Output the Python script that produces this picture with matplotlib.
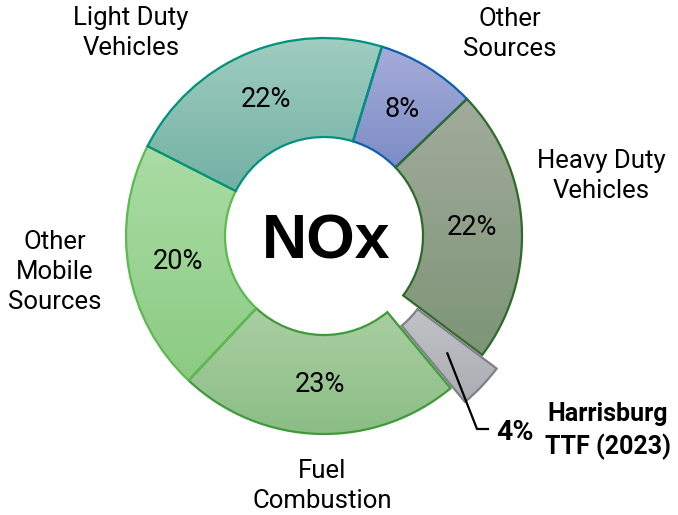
import numpy as np
import matplotlib
matplotlib.use("Agg")
import matplotlib.pyplot as plt
from matplotlib.colors import to_rgb

categories = ["Other Sources", "Heavy Duty Vehicles", "Harrisburg TTF (2023)",
              "Fuel Combustion", "Other Mobile Sources", "Light Duty Vehicles"]
shares = [8.1, 22.4, 3.7, 23.0, 20.5, 22.2]
pct_labels = ["8%", "22%", "4%", "23%", "20%", "22%"]
explode_frac = [0, 0, 0.1, 0, 0, 0]

top_colors = ["#a6acd9", "#a2ab9c", "#c0c2c6", "#a9cfa2", "#aadca4", "#a0cdc0"]
bottom_colors = ["#7c8dc6", "#7d9577", "#aaadb2", "#8cbd85", "#8ccb83", "#72b1a4"]
edge_colors = ["#0f5fae", "#2f6a2a", "#808087", "#3f9a3a", "#5cba4e", "#00927c"]

W, H = 678, 515
fig = plt.figure(figsize=(W / 100, H / 100), dpi=100)
ax = fig.add_axes([0, 0, 1, 1])

cx, cy = 324, H - 236
R = 198
explode = [e * R for e in explode_frac]

wedges, _ = ax.pie(shares, radius=R, center=(cx, cy), startangle=73,
                   counterclock=False, explode=explode,
                   wedgeprops=dict(width=R * 0.5, linewidth=1.6))

for w, tc, bc, ec in zip(wedges, top_colors, bottom_colors, edge_colors):
    ext = w.get_path().get_extents()
    t = np.linspace(0, 1, 256)[:, None]
    c1, c2 = np.array(to_rgb(tc)), np.array(to_rgb(bc))
    grad = (c1[None, None, :] * (1 - t[:, :, None]) + c2[None, None, :] * t[:, :, None])
    im = ax.imshow(grad, extent=(ext.x0, ext.x1, ext.y0, ext.y1), origin="upper",
                   aspect="auto", zorder=0.5, interpolation="bilinear")
    im.set_clip_path(w)
    w.set_facecolor("none")
    w.set_edgecolor(ec)
    w.set_zorder(1)

font = "Roboto"
for i, w in enumerate(wedges):
    if i == 2:
        continue
    mid = np.deg2rad((w.theta1 + w.theta2) / 2)
    x = w.center[0] + 0.75 * R * np.cos(mid)
    y = w.center[1] + 0.75 * R * np.sin(mid)
    ax.text(x, y, pct_labels[i], ha="center", va="center", fontsize=19.5,
            family=font, color="black")

# Harrisburg leader line and labels
hw = wedges[2]
mid = np.deg2rad((hw.theta1 + hw.theta2) / 2)
sx = hw.center[0] + 0.76 * R * np.cos(mid)
sy = hw.center[1] + 0.76 * R * np.sin(mid)
ax.plot([sx, 477, 488], [sy, H - 429, H - 429], color="black", lw=1.6, zorder=3)
ax.text(515, H - 432, pct_labels[2], ha="center", va="center", fontsize=20.5,
        family=font, fontweight="bold")
ax.text(608, H - 431, "Harrisburg\nTTF (2023)", ha="center", va="center",
        fontsize=18, family=font, fontweight="bold", linespacing=1.36)

cat_pos = {
    "Other Sources": (510, 34),
    "Heavy Duty Vehicles": (601, 176),
    "Fuel Combustion": (322, 486),
    "Other Mobile Sources": (55, 272),
    "Light Duty Vehicles": (131, 33),
}
cat_text = {
    "Other Sources": "Other\nSources",
    "Heavy Duty Vehicles": "Heavy Duty\nVehicles",
    "Fuel Combustion": "Fuel\nCombustion",
    "Other Mobile Sources": "Other\nMobile\nSources",
    "Light Duty Vehicles": "Light Duty\nVehicles",
}
for name, (x, y) in cat_pos.items():
    ax.text(x, H - y, cat_text[name], ha="center", va="center", fontsize=18.5,
            family=font, linespacing=1.33)

ax.text(326, H - 242, "NOx", ha="center", va="center", fontsize=45,
        family="Liberation Sans", fontweight="bold")

ax.set_xlim(0, W)
ax.set_ylim(0, H)
ax.set_aspect("auto")
ax.axis("off")
fig.savefig("out.png", dpi=100)
